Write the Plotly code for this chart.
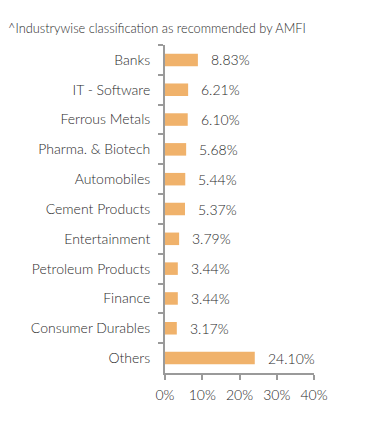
import plotly.graph_objects as go

categories = ["Banks", "IT - Software", "Ferrous Metals", "Pharma. & Biotech", "Automobiles",
              "Cement Products", "Entertainment", "Petroleum Products", "Finance",
              "Consumer Durables", "Others"]
values = [8.83, 6.21, 6.10, 5.68, 5.44, 5.37, 3.79, 3.44, 3.44, 3.17, 24.10]
x_ticks = [0, 10, 20, 30, 40]
x_tick_labels = ["0%", "10%", "20%", "30%", "40%"]
title_text = "^Industrywise classification as recommended by AMFI"

FONT = "Lato"
TXT = "#2a2a2a"
BAR = "#F0B26B"
AX = "#9a9a9a"
FS = 14

W, H = 383, 418
L, T = 157, 37
PW = 149

fig = go.Figure(go.Bar(
    x=values, y=categories, orientation="h",
    marker=dict(color=BAR, line=dict(width=0)),
    width=0.42,
))

for c, v in zip(categories, values):
    fig.add_annotation(x=v, y=c, text=f"{v:.2f}%", showarrow=False,
                       xanchor="left", yanchor="middle", xshift=11,
                       font=dict(family=FONT, size=FS, color=TXT, weight=300))

fig.update_layout(
    width=W, height=H,
    margin=dict(l=L, r=W - L - PW, t=T, b=53, autoexpand=False),
    paper_bgcolor="white", plot_bgcolor="white",
    showlegend=False,
    font=dict(family=FONT, size=FS, color=TXT, weight=300),
    annotations=list(fig.layout.annotations) + [dict(
        text=title_text, xref="paper", yref="paper", x=(-2 - L) / PW, y=1,
        xanchor="left", yanchor="bottom", yshift=7, showarrow=False,
        font=dict(family=FONT, size=12.8, color=TXT, weight=300))],
)
fig.update_xaxes(range=[0, 40], tickvals=x_ticks, ticktext=x_tick_labels, automargin=False,
                 showgrid=False, zeroline=False, showline=True, linecolor=AX, linewidth=2,
                 ticks="outside", ticklen=5, tickcolor=AX, tickwidth=2,
                 ticklabelstandoff=3,
                 tickfont=dict(family=FONT, size=FS, color=TXT, weight=300))
fig.update_yaxes(categoryorder="array", categoryarray=categories, autorange="reversed",
                 automargin=False,
                 showgrid=False, zeroline=False, showline=True, linecolor=AX, linewidth=2,
                 ticks="outside", tickson="boundaries", ticklen=5, tickcolor=AX, tickwidth=2,
                 ticklabelstandoff=10,
                 tickfont=dict(family=FONT, size=FS, color=TXT, weight=300))

fig.write_html("out.html")
